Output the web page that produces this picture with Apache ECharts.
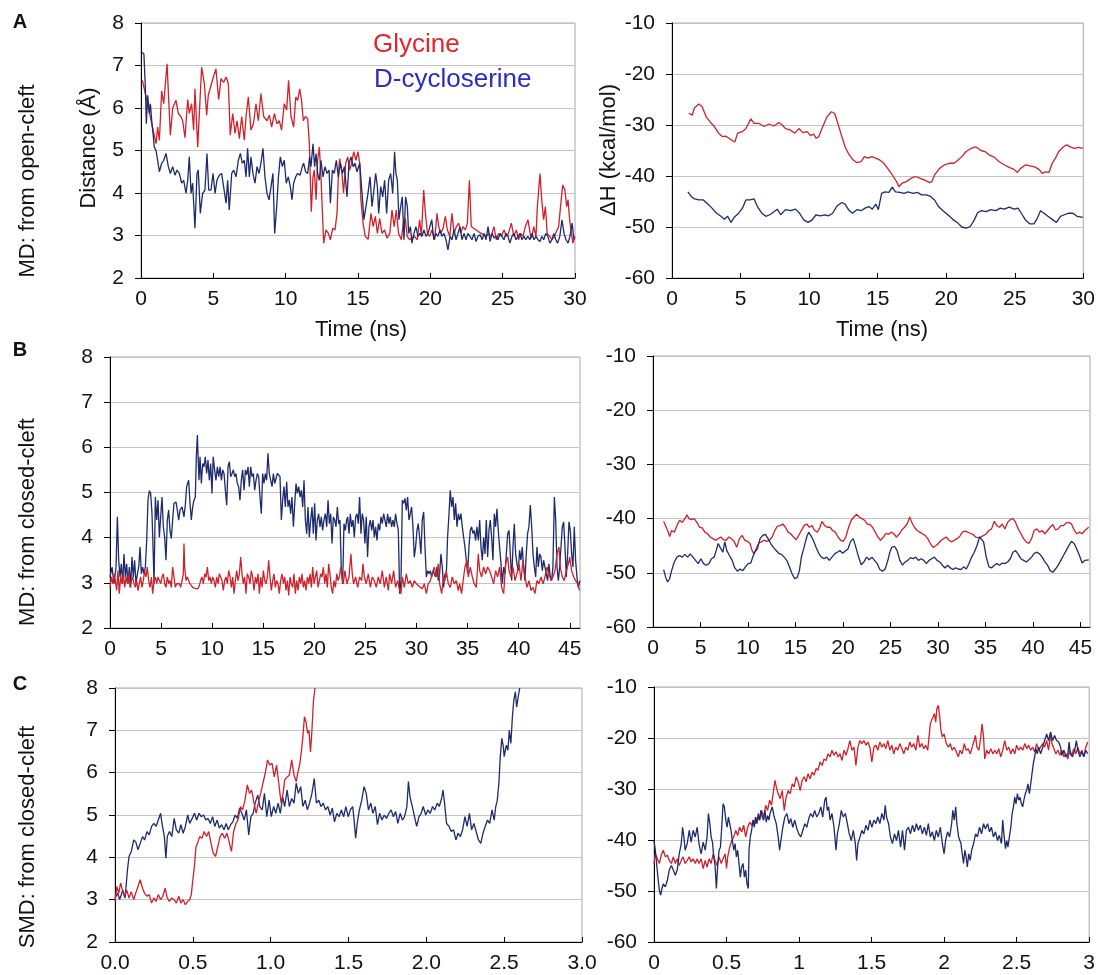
<!DOCTYPE html>
<html>
<head>
<meta charset="utf-8">
<script src="https://cdn.jsdelivr.net/npm/echarts@6/dist/echarts.min.js"></script>
<style>html,body{margin:0;padding:0;background:#fff;}#c{width:1098px;height:975px;}</style>
</head>
<body>
<div id="c"></div>
<script>
// ---------- DATA ----------
// Panel A left: distance (Å) vs time (ns), MD from open-cleft
const A_gly = [[0.1,6.65],[0.35,6.26],[0.7,5.7],[1.04,5.16],[1.15,5.55],[1.27,5.24],[1.43,6.4],[1.57,6.1],[1.8,7.04],[2.03,5.36],[2.19,6.0],[2.42,6.18],[2.58,5.87],[2.76,5.8],[2.88,5.7],[3.04,5.3],[3.23,6.2],[3.34,5.87],[3.5,6.1],[3.64,5.48],[3.73,6.45],[3.92,5.08],[4.19,6.96],[4.38,6.57],[4.54,5.83],[4.65,6.3],[4.84,6.53],[5.0,6.73],[5.18,6.92],[5.37,6.2],[5.53,6.69],[5.71,6.6],[5.88,6.73],[6.04,6.57],[6.17,5.36],[6.34,5.87],[6.5,5.4],[6.64,5.7],[6.8,5.28],[6.96,5.8],[7.14,5.24],[7.26,5.8],[7.42,6.26],[7.6,5.48],[7.77,5.63],[7.95,6.1],[8.11,5.7],[8.29,6.34],[8.48,5.8],[8.71,5.7],[8.87,5.83],[9.03,5.55],[9.22,5.87],[9.4,5.63],[9.56,5.7],[9.72,5.48],[9.9,6.1],[10.07,5.95],[10.2,6.65],[10.37,5.8],[10.55,5.55],[10.7,6.26],[10.83,6.18],[10.97,6.45],[11.1,6.18],[11.22,5.7],[11.36,5.8],[11.52,5.75],[11.64,5.16],[11.7,4.38],[11.77,3.56],[11.89,4.38],[11.98,4.54],[12.1,3.84],[12.21,4.77],[12.33,5.08],[12.44,4.38],[12.56,3.37],[12.63,2.82],[12.79,3.13],[12.95,3.05],[13.09,2.9],[13.25,3.17],[13.41,3.13],[13.55,3.52],[13.64,4.38],[13.73,4.81],[13.87,4.54],[14.0,4.0],[14.15,4.7],[14.29,4.85],[14.42,4.54],[14.56,4.7],[14.7,4.97],[14.86,4.77],[15.0,4.97],[15.12,4.7],[15.2,3.84],[15.35,3.29],[15.5,2.98],[15.7,2.91],[15.9,3.52],[16.05,3.21],[16.2,3.45],[16.34,3.05],[16.5,3.4],[16.66,3.05],[16.84,3.13],[17.0,2.94],[17.2,3.05],[17.35,3.6],[17.5,3.21],[17.65,3.6],[17.8,3.05],[18.0,2.9],[18.13,3.29],[18.27,3.4],[18.4,2.98],[18.57,2.9],[18.73,2.94],[18.9,2.98],[19.1,2.9],[19.26,3.37],[19.38,2.98],[19.54,4.07],[19.66,3.52],[19.8,3.05],[19.95,2.98],[20.1,3.13],[20.3,2.9],[20.46,3.52],[20.58,3.21],[20.72,3.05],[20.88,3.17],[21.04,3.45],[21.18,3.13],[21.34,2.98],[21.5,3.52],[21.64,3.05],[21.8,3.21],[21.96,3.29],[22.1,3.05],[22.26,3.21],[22.42,3.13],[22.56,3.29],[22.7,4.3],[22.83,3.21],[23.0,3.17],[23.18,3.13],[23.34,3.09],[23.5,3.05],[23.7,3.02],[23.87,2.98],[24.03,3.05],[24.2,2.98],[24.4,3.21],[24.56,2.9],[24.72,3.05],[24.9,2.98],[25.1,3.13],[25.25,2.98],[25.4,3.05],[25.6,3.29],[25.77,2.98],[25.95,3.13],[26.1,2.9],[26.24,3.05],[26.4,2.98],[26.57,3.21],[26.75,3.37],[26.9,3.05],[27.0,2.94],[27.15,3.21],[27.3,2.98],[27.4,3.68],[27.58,4.46],[27.7,3.84],[27.83,3.37],[27.95,3.68],[28.08,3.05],[28.25,2.98],[28.41,2.9],[28.57,2.98],[28.7,3.02],[28.87,3.21],[29.0,3.68],[29.15,4.19],[29.3,4.07],[29.43,3.68],[29.52,3.84],[29.63,3.37],[29.75,3.05],[29.86,2.82],[30.0,2.98]];
const A_dcs = [[0.05,7.31],[0.2,7.27],[0.3,6.5],[0.37,5.63],[0.46,6.3],[0.58,5.87],[0.65,6.1],[0.74,5.7],[0.83,5.4],[0.92,5.08],[1.04,5.0],[1.15,4.77],[1.27,4.5],[1.43,4.7],[1.57,4.77],[1.73,4.93],[1.89,4.62],[2.03,4.46],[2.19,4.62],[2.35,4.42],[2.49,4.54],[2.65,4.46],[2.81,4.23],[2.95,4.3],[3.11,3.99],[3.23,4.3],[3.34,4.85],[3.46,3.99],[3.57,4.23],[3.73,3.17],[3.87,4.46],[3.96,4.54],[4.1,3.52],[4.26,3.99],[4.42,4.07],[4.56,4.93],[4.68,4.07],[4.84,4.07],[4.98,4.46],[5.12,3.99],[5.25,4.3],[5.41,4.42],[5.57,4.46],[5.71,4.15],[5.88,3.76],[5.99,4.3],[6.1,3.6],[6.27,4.46],[6.41,4.54],[6.57,4.38],[6.73,4.77],[6.87,4.93],[7.0,4.7],[7.14,4.77],[7.26,4.38],[7.37,5.05],[7.49,4.38],[7.6,4.85],[7.74,4.46],[7.88,4.23],[8.02,4.62],[8.16,4.46],[8.29,4.7],[8.43,5.05],[8.57,4.38],[8.71,3.99],[8.85,3.84],[8.99,4.15],[9.12,4.46],[9.24,3.05],[9.38,3.68],[9.5,4.38],[9.63,4.85],[9.77,4.62],[9.9,4.77],[10.04,4.23],[10.18,4.38],[10.32,4.15],[10.44,3.84],[10.55,4.23],[10.69,4.38],[10.83,4.46],[11.0,4.42],[11.15,4.62],[11.24,4.7],[11.38,4.5],[11.52,4.46],[11.66,4.85],[11.75,4.62],[11.89,5.16],[12.0,4.62],[12.1,4.93],[12.21,4.46],[12.33,4.3],[12.44,4.77],[12.58,4.38],[12.72,4.62],[12.86,4.46],[13.0,4.54],[13.09,3.76],[13.23,4.54],[13.36,4.46],[13.5,4.77],[13.64,4.38],[13.78,4.7],[13.92,4.46],[14.06,4.62],[14.24,3.91],[14.38,4.7],[14.52,4.85],[14.66,4.62],[14.79,4.7],[14.93,4.5],[15.05,4.46],[15.12,4.7],[15.28,3.99],[15.41,3.37],[15.55,3.68],[15.69,3.99],[15.83,4.38],[15.97,3.68],[16.1,4.07],[16.22,4.46],[16.34,4.15],[16.43,3.52],[16.57,4.15],[16.71,3.91],[16.84,4.3],[16.98,3.52],[17.12,4.3],[17.26,4.46],[17.4,3.99],[17.53,4.97],[17.62,4.46],[17.72,4.3],[17.83,3.37],[17.95,3.68],[18.06,3.91],[18.18,2.9],[18.29,3.91],[18.41,3.68],[18.5,3.05],[18.62,3.21],[18.73,2.82],[18.87,3.05],[19.0,3.21],[19.15,2.98],[19.28,3.05],[19.42,2.98],[19.56,3.13],[19.7,2.98],[19.84,3.05],[19.97,3.21],[20.1,3.37],[20.24,2.9],[20.38,3.05],[20.52,2.98],[20.67,3.13],[20.8,2.98],[20.94,3.05],[21.08,2.9],[21.22,2.66],[21.36,2.98],[21.5,2.9],[21.64,3.13],[21.78,2.9],[21.91,3.05],[22.05,3.21],[22.19,2.9],[22.33,3.05],[22.47,2.9],[22.6,3.05],[22.74,2.98],[22.88,2.9],[23.02,3.05],[23.16,2.86],[23.3,2.98],[23.44,3.02],[23.58,2.9],[23.72,3.05],[23.85,2.9],[23.99,3.21],[24.13,2.86],[24.27,3.05],[24.4,2.94],[24.54,2.98],[24.68,2.9],[24.82,3.05],[24.95,2.98],[25.09,2.9],[25.23,3.05],[25.37,2.98],[25.5,2.82],[25.64,2.98],[25.78,3.05],[25.92,2.9],[26.06,2.98],[26.2,3.05],[26.33,2.9],[26.47,2.98],[26.6,2.9],[26.74,2.98],[26.88,2.9],[27.02,3.05],[27.17,2.9],[27.3,2.98],[27.44,2.9],[27.58,2.86],[27.7,2.98],[27.84,2.9],[27.98,3.05],[28.12,2.98],[28.27,2.82],[28.4,2.9],[28.54,3.05],[28.67,2.9],[28.8,2.82],[28.95,2.98],[29.1,3.37],[29.24,3.05],[29.38,2.9],[29.52,2.82],[29.65,2.98],[29.8,3.29],[29.93,2.9]];

// Panel A right: ΔH (kcal/mol) vs time (ns)
const AH_gly = [[1.23,-27.7],[1.47,-28.1],[1.64,-26.6],[1.96,-25.9],[2.2,-26.4],[2.49,-28.4],[2.78,-29.4],[3.09,-30.3],[3.4,-31.6],[3.7,-32.3],[3.94,-32.2],[4.3,-32.9],[4.59,-33.3],[4.78,-31.6],[5.14,-31.3],[5.39,-30.7],[5.75,-28.8],[5.99,-29.7],[6.35,-29.7],[6.71,-30.3],[7.08,-29.8],[7.44,-30.2],[7.8,-29.5],[8.04,-30.0],[8.28,-30.7],[8.65,-31.0],[8.96,-31.6],[9.25,-30.7],[9.54,-31.5],[9.86,-31.3],[10.1,-32.1],[10.34,-31.8],[10.51,-32.6],[10.7,-32.3],[10.94,-30.7],[11.3,-28.4],[11.62,-27.4],[11.86,-27.7],[12.1,-29.7],[12.39,-32.3],[12.63,-34.3],[12.87,-35.6],[13.16,-36.7],[13.48,-37.4],[13.79,-37.2],[14.03,-36.2],[14.28,-36.5],[14.57,-36.2],[14.86,-36.5],[15.17,-36.9],[15.41,-37.4],[15.65,-38.2],[15.89,-39.1],[16.14,-40.1],[16.38,-41.1],[16.55,-42.1],[16.79,-41.4],[17.1,-41.1],[17.46,-40.4],[17.75,-40.1],[18.07,-40.4],[18.43,-40.8],[18.79,-41.3],[18.96,-41.1],[19.15,-39.8],[19.52,-38.5],[19.88,-37.8],[20.24,-37.5],[20.56,-37.5],[20.85,-36.9],[21.14,-36.2],[21.45,-35.2],[21.81,-34.6],[22.17,-34.3],[22.54,-35.0],[22.83,-35.2],[23.14,-35.9],[23.5,-36.3],[23.86,-37.2],[24.23,-37.8],[24.59,-38.3],[24.95,-38.7],[25.19,-39.3],[25.43,-38.5],[25.8,-37.8],[26.1,-38.0],[26.45,-38.2],[26.76,-38.7],[27.0,-39.5],[27.25,-39.2],[27.49,-39.3],[27.73,-37.5],[27.97,-36.5],[28.21,-35.2],[28.53,-34.3],[28.77,-33.9],[29.06,-34.3],[29.35,-34.6],[29.66,-34.4],[29.97,-34.6]];
const AH_dcs = [[1.16,-43.1],[1.4,-44.0],[1.64,-44.5],[1.96,-44.7],[2.29,-44.7],[2.61,-45.5],[2.92,-46.3],[3.21,-47.2],[3.57,-47.9],[3.82,-48.5],[4.06,-47.9],[4.3,-49.1],[4.54,-48.1],[4.86,-47.3],[5.14,-46.3],[5.39,-44.7],[5.68,-44.7],[5.99,-44.5],[6.23,-46.0],[6.55,-47.3],[6.84,-47.9],[7.13,-47.6],[7.44,-47.0],[7.68,-46.5],[7.92,-47.6],[8.28,-46.6],[8.65,-46.8],[9.01,-46.5],[9.3,-47.3],[9.61,-48.6],[9.93,-49.1],[10.22,-48.6],[10.51,-47.6],[10.82,-47.8],[11.14,-47.6],[11.43,-47.8],[11.71,-47.3],[12.03,-45.9],[12.39,-45.2],[12.63,-45.5],[12.87,-46.6],[13.16,-47.3],[13.48,-46.6],[13.79,-46.8],[14.08,-46.3],[14.37,-46.0],[14.61,-46.5],[14.86,-45.5],[15.05,-46.6],[15.29,-43.4],[15.53,-43.1],[15.82,-43.2],[16.06,-42.2],[16.3,-43.1],[16.62,-43.2],[16.93,-43.4],[17.22,-43.1],[17.58,-43.4],[17.9,-43.2],[18.19,-43.7],[18.55,-43.7],[18.86,-44.0],[19.15,-44.7],[19.44,-46.0],[19.76,-46.8],[20.12,-47.6],[20.48,-48.5],[20.8,-49.1],[21.14,-50.0],[21.45,-50.2],[21.76,-49.9],[22.05,-48.6],[22.29,-47.2],[22.58,-46.8],[22.9,-47.0],[23.26,-46.6],[23.62,-46.8],[23.94,-46.3],[24.23,-46.5],[24.59,-46.1],[24.95,-46.5],[25.24,-46.3],[25.48,-47.3],[25.8,-48.7],[26.11,-49.4],[26.4,-49.4],[26.64,-48.3],[26.88,-46.8],[27.13,-47.3],[27.42,-47.9],[27.73,-48.5],[28.04,-49.1],[28.33,-47.9],[28.62,-47.6],[28.94,-47.3],[29.25,-47.3],[29.54,-47.9],[29.97,-48.1]];

// Panel B left: distance (Å), MD from closed-cleft
const B_gly = [[0,2.9],[0.13,3.13],[0.26,2.98],[0.39,3.2],[0.52,3.05],[0.65,2.83],[0.78,3.27],[0.91,2.76],[1.04,3.13],[1.17,2.98],[1.31,3.2],[1.44,2.9],[1.57,3.13],[1.7,2.98],[1.83,3.2],[1.96,2.9],[2.09,3.05],[2.22,3.13],[2.35,2.98],[2.48,2.9],[2.61,3.05],[2.74,2.83],[2.87,2.98],[3.0,3.13],[3.13,2.9],[3.26,3.05],[3.39,3.27],[3.52,3.13],[3.65,3.35],[3.78,3.05],[3.92,2.9],[4.05,3.13],[4.18,2.76],[4.31,3.05],[4.44,3.13],[4.57,2.98],[4.7,3.13],[4.83,3.05],[4.96,2.98],[5.09,3.13],[5.22,3.2],[5.35,2.98],[5.48,2.9],[5.61,3.13],[5.74,2.98],[5.87,3.05],[6.0,2.9],[6.13,3.35],[6.26,3.13],[6.39,2.9],[6.53,2.98],[6.66,2.94],[6.79,2.98],[6.92,2.9],[7.05,2.94],[7.18,3.2],[7.24,3.87],[7.31,3.35],[7.44,3.05],[7.57,3.13],[7.7,3.05],[7.83,2.98],[7.96,2.98],[8.09,2.9],[8.22,2.87],[8.35,2.87],[8.48,2.9],[8.61,2.87],[8.74,2.94],[8.87,3.05],[9.0,3.13],[9.14,2.98],[9.27,3.2],[9.4,3.13],[9.53,3.35],[9.66,3.05],[9.79,3.13],[9.92,2.98],[10.05,3.13],[10.18,3.05],[10.31,2.9],[10.44,3.13],[10.57,2.98],[10.7,3.2],[10.83,3.13],[10.96,3.05],[11.09,2.83],[11.22,3.05],[11.35,3.13],[11.48,2.98],[11.62,3.27],[11.75,3.13],[11.88,2.9],[12.01,3.13],[12.14,2.76],[12.27,3.05],[12.4,3.27],[12.53,3.05],[12.66,3.2],[12.79,3.57],[12.92,3.2],[13.05,2.98],[13.18,3.13],[13.31,2.76],[13.44,3.2],[13.57,3.13],[13.7,2.98],[13.83,3.27],[13.96,3.13],[14.09,2.83],[14.23,3.13],[14.36,2.98],[14.49,3.2],[14.62,2.76],[14.75,3.13],[14.88,2.9],[15.01,3.27],[15.14,3.05],[15.27,2.98],[15.4,3.13],[15.53,3.5],[15.66,3.13],[15.79,2.83],[15.92,3.05],[16.05,3.2],[16.18,2.9],[16.31,3.05],[16.44,2.98],[16.57,2.76],[16.7,3.05],[16.84,3.2],[16.97,2.98],[17.1,3.13],[17.23,2.83],[17.36,3.05],[17.49,2.72],[17.62,3.13],[17.75,2.98],[17.88,2.9],[18.01,3.2],[18.14,2.76],[18.27,3.05],[18.4,2.83],[18.53,3.13],[18.66,2.98],[18.79,3.2],[18.92,2.9],[19.05,3.05],[19.18,2.83],[19.32,3.13],[19.45,2.98],[19.58,3.2],[19.71,2.9],[19.84,3.35],[19.97,2.98],[20.1,3.13],[20.23,3.27],[20.36,2.9],[20.49,3.05],[20.62,3.2],[20.75,3.13],[20.88,3.35],[21.01,2.98],[21.14,3.2],[21.27,2.9],[21.4,3.42],[21.53,3.2],[21.66,2.9],[21.79,2.76],[21.92,3.05],[22.06,2.9],[22.19,3.2],[22.32,3.05],[22.45,3.13],[22.58,3.35],[22.71,3.13],[22.84,2.98],[22.99,3.27],[23.19,2.98],[23.39,3.13],[23.58,3.64],[23.71,3.2],[23.84,2.98],[24.04,3.13],[24.24,2.9],[24.43,3.13],[24.63,3.05],[24.76,3.42],[24.89,3.13],[25.08,2.98],[25.28,3.2],[25.48,2.9],[25.67,3.13],[25.87,3.05],[26.06,2.9],[26.26,3.13],[26.45,2.98],[26.65,3.27],[26.85,2.9],[27.04,3.13],[27.24,2.83],[27.37,3.2],[27.56,2.98],[27.76,3.27],[27.95,2.9],[28.15,3.05],[28.35,2.83],[28.48,2.76],[28.61,3.13],[28.8,2.9],[29.0,3.2],[29.19,2.98],[29.39,3.05],[29.59,2.9],[29.78,3.05],[29.98,2.98],[30.17,2.94],[30.37,2.9],[30.57,2.87],[30.76,2.98],[30.96,2.76],[31.15,2.98],[31.35,3.05],[31.54,3.2],[31.74,3.35],[31.94,3.13],[32.13,3.42],[32.26,2.98],[32.46,2.76],[32.65,3.13],[32.78,3.05],[32.91,3.27],[33.11,2.98],[33.31,2.9],[33.5,3.13],[33.7,2.98],[33.89,3.05],[34.09,2.83],[34.22,2.98],[34.41,2.76],[34.61,3.13],[34.74,3.35],[34.94,3.5],[35.07,3.13],[35.26,3.35],[35.46,3.13],[35.65,2.98],[35.85,2.9],[36.05,3.64],[36.18,3.27],[36.37,3.13],[36.57,3.35],[36.76,3.2],[36.96,3.35],[37.16,3.27],[37.35,3.13],[37.55,2.98],[37.74,3.27],[37.94,3.13],[38.13,3.35],[38.33,2.9],[38.53,2.76],[38.72,3.42],[38.92,3.57],[39.05,3.27],[39.24,3.13],[39.44,3.35],[39.64,3.05],[39.83,3.2],[40.03,3.42],[40.22,3.05],[40.42,3.5],[40.61,3.13],[40.81,2.9],[41.01,3.05],[41.2,2.83],[41.4,2.9],[41.59,2.76],[41.79,3.05],[41.98,2.98],[42.18,3.13],[42.38,2.98],[42.57,3.13],[42.77,3.35],[42.96,3.2],[43.16,3.05],[43.35,3.13],[43.55,3.27],[43.75,3.64],[43.94,3.79],[44.07,3.35],[44.27,3.13],[44.46,3.05],[44.66,3.27],[44.86,3.42],[44.99,3.57],[45.18,3.27],[45.38,3.13],[45.57,3.05],[45.77,2.98],[45.96,2.83]];
const B_dcs = [[0,3.13],[0.2,3.35],[0.39,2.98],[0.59,3.35],[0.72,4.46],[0.85,3.5],[0.98,3.13],[1.11,3.42],[1.24,2.98],[1.37,3.64],[1.5,3.13],[1.63,3.42],[1.76,2.98],[1.89,3.35],[2.02,2.9],[2.15,3.57],[2.28,3.13],[2.41,3.5],[2.54,2.98],[2.68,3.2],[2.81,3.35],[2.94,3.79],[3.07,3.2],[3.2,3.35],[3.33,3.2],[3.46,3.35],[3.59,3.94],[3.72,4.83],[3.85,5.04],[3.98,4.98],[4.11,4.53],[4.24,3.57],[4.31,2.98],[4.44,4.9],[4.57,4.39],[4.7,4.83],[4.83,4.01],[4.96,4.46],[5.09,4.9],[5.22,4.24],[5.35,4.01],[5.48,3.5],[5.61,4.39],[5.74,4.61],[5.87,4.16],[6.0,3.98],[6.13,4.39],[6.26,4.76],[6.46,4.79],[6.59,4.61],[6.72,4.39],[6.85,4.61],[7.05,4.68],[7.24,4.46],[7.37,4.72],[7.5,5.13],[7.7,5.27],[7.83,4.76],[7.96,4.39],[8.09,4.68],[8.22,4.83],[8.35,4.9],[8.45,5.79],[8.55,6.27],[8.61,5.87],[8.71,5.27],[8.81,5.79],[8.94,5.2],[9.07,5.64],[9.2,5.57],[9.33,5.79],[9.46,5.42],[9.59,5.72],[9.72,5.27],[9.85,5.64],[9.98,4.98],[10.1,5.79],[10.24,5.5],[10.37,5.27],[10.51,5.57],[10.64,5.35],[10.77,5.57],[10.9,5.27],[11.03,5.5],[11.16,5.42],[11.29,5.05],[11.42,4.72],[11.55,5.57],[11.68,5.68],[11.81,5.35],[11.94,5.42],[12.07,5.5],[12.2,5.35],[12.33,5.42],[12.46,5.2],[12.59,5.13],[12.72,4.83],[12.85,5.27],[12.98,5.5],[13.12,5.05],[13.25,5.5],[13.38,5.39],[13.51,5.57],[13.64,5.13],[13.77,5.57],[13.9,5.35],[14.03,5.42],[14.16,5.05],[14.29,5.27],[14.42,5.42],[14.55,5.35],[14.68,4.9],[14.81,4.53],[14.94,5.42],[15.07,5.2],[15.2,5.42],[15.33,5.27],[15.46,5.87],[15.59,5.42],[15.73,5.27],[15.86,5.13],[15.99,5.42],[16.12,5.2],[16.25,5.31],[16.38,5.42],[16.51,5.46],[16.64,5.35],[16.77,4.39],[16.9,4.83],[17.03,5.13],[17.16,4.68],[17.29,5.24],[17.42,4.68],[17.55,4.83],[17.68,4.53],[17.81,4.9],[17.95,4.24],[18.08,4.76],[18.21,5.2],[18.34,4.98],[18.47,5.13],[18.6,4.9],[18.73,5.05],[18.86,4.68],[18.99,5.27],[19.12,4.39],[19.25,4.09],[19.38,4.68],[19.51,4.01],[19.64,4.39],[19.77,4.68],[19.9,4.09],[20.03,4.76],[20.16,3.94],[20.29,4.39],[20.42,4.53],[20.55,4.24],[20.68,4.46],[20.81,4.16],[20.94,4.39],[21.08,4.53],[21.21,4.24],[21.34,4.83],[21.47,4.31],[21.6,4.53],[21.73,3.87],[21.86,4.46],[21.99,4.39],[22.12,4.24],[22.25,4.68],[22.38,4.31],[22.51,4.39],[22.64,3.27],[22.77,2.98],[22.9,4.31],[23.03,4.16],[23.16,4.39],[23.26,4.46],[23.39,4.09],[23.52,4.53],[23.65,4.24],[23.78,4.39],[23.91,4.01],[24.04,4.46],[24.17,4.53],[24.3,4.31],[24.43,4.9],[24.56,4.09],[24.69,4.53],[24.82,4.39],[24.95,3.87],[25.08,4.46],[25.21,3.57],[25.34,4.24],[25.48,4.39],[25.61,4.16],[25.74,4.39],[25.87,4.01],[26.0,4.24],[26.13,3.94],[26.26,4.31],[26.39,4.16],[26.52,4.46],[26.65,4.31],[26.78,4.53],[26.91,4.39],[27.04,4.24],[27.17,4.53],[27.3,4.31],[27.43,4.46],[27.56,4.24],[27.69,4.39],[27.82,4.24],[27.95,4.53],[28.09,4.31],[28.22,4.16],[28.35,2.76],[28.48,3.05],[28.61,4.83],[28.74,4.76],[28.87,4.87],[29.0,4.61],[29.13,4.9],[29.26,4.39],[29.39,4.53],[29.52,4.68],[29.65,4.24],[29.78,3.57],[29.91,3.79],[30.04,4.16],[30.17,4.31],[30.3,4.01],[30.43,3.64],[30.56,4.39],[30.7,4.57],[30.83,3.79],[30.96,3.13],[31.09,3.27],[31.22,3.2],[31.35,3.27],[31.48,3.13],[31.61,3.27],[31.74,3.2],[31.87,3.13],[32.0,3.35],[32.13,3.05],[32.26,3.2],[32.39,3.64],[32.52,3.35],[32.65,2.9],[32.78,3.2],[32.91,3.13],[33.04,4.01],[33.18,4.53],[33.3,5.05],[33.44,4.68],[33.57,4.9],[33.7,4.39],[33.83,4.76],[33.96,4.24],[34.09,4.53],[34.22,4.39],[34.35,4.53],[34.48,4.24],[34.61,4.01],[34.74,3.79],[34.87,3.5],[35.0,3.2],[35.13,3.79],[35.26,4.16],[35.39,4.24],[35.52,4.09],[35.65,4.16],[35.78,3.94],[35.91,4.24],[36.05,3.94],[36.18,4.39],[36.31,3.79],[36.44,3.5],[36.57,4.01],[36.7,3.64],[36.83,4.39],[36.96,3.57],[37.09,4.16],[37.22,4.39],[37.35,4.01],[37.48,3.5],[37.61,4.53],[37.74,4.24],[37.87,4.64],[38.0,4.16],[38.13,3.79],[38.27,3.42],[38.4,2.98],[38.53,3.35],[38.66,3.2],[38.79,3.64],[38.92,4.09],[39.05,4.16],[39.18,3.64],[39.31,3.05],[39.44,3.79],[39.57,4.31],[39.7,3.64],[39.83,3.42],[39.96,3.27],[40.09,3.72],[40.22,3.5],[40.35,3.79],[40.48,3.35],[40.61,3.05],[40.74,3.64],[40.87,4.09],[41.0,4.24],[41.14,4.72],[41.27,4.24],[41.4,3.64],[41.53,3.35],[41.66,3.13],[41.79,3.79],[41.92,3.35],[42.05,3.64],[42.18,3.57],[42.31,3.27],[42.44,3.5],[42.57,3.35],[42.7,3.2],[42.83,3.05],[42.96,3.42],[43.09,3.13],[43.22,3.05],[43.35,3.35],[43.49,4.9],[43.62,4.39],[43.75,3.35],[43.88,3.05],[44.01,3.35],[44.14,3.79],[44.27,4.24],[44.4,4.35],[44.53,3.79],[44.66,3.13],[44.79,3.64],[44.92,4.35],[45.05,4.16],[45.18,3.64],[45.31,3.35],[45.44,4.24],[45.57,3.5],[45.7,3.13],[45.83,2.9],[46.0,3.05]];

// Panel B right: ΔH (kcal/mol)
const BH_gly = [[1.12,-40.5],[1.33,-40.3],[1.54,-42.2],[1.75,-43.3],[1.96,-42.2],[2.24,-42.5],[2.52,-41.3],[2.8,-40.3],[3.08,-40.7],[3.36,-40.0],[3.57,-39.3],[3.78,-40.0],[4.06,-40.2],[4.34,-40.0],[4.62,-40.7],[4.9,-41.6],[5.18,-41.7],[5.46,-42.5],[5.74,-42.8],[6.02,-43.4],[6.3,-43.7],[6.58,-44.0],[6.86,-43.7],[7.14,-43.4],[7.42,-43.9],[7.7,-44.0],[7.98,-43.4],[8.26,-43.7],[8.54,-44.2],[8.82,-45.3],[9.1,-43.7],[9.38,-43.1],[9.66,-44.0],[9.94,-44.2],[10.22,-44.6],[10.43,-45.9],[10.64,-46.5],[10.85,-45.6],[11.13,-44.5],[11.41,-44.3],[11.69,-44.0],[11.97,-44.2],[12.25,-44.0],[12.54,-43.4],[12.82,-42.2],[13.1,-41.4],[13.38,-41.3],[13.66,-41.0],[13.94,-41.6],[14.22,-42.5],[14.5,-42.8],[14.78,-43.4],[15.06,-43.9],[15.34,-43.1],[15.62,-42.2],[15.9,-41.3],[16.18,-41.0],[16.46,-41.6],[16.74,-41.3],[17.02,-42.2],[17.3,-42.5],[17.58,-41.6],[17.79,-40.5],[18.07,-41.3],[18.35,-41.6],[18.63,-41.6],[18.91,-42.2],[19.19,-42.5],[19.47,-43.4],[19.75,-44.0],[20.03,-44.2],[20.31,-43.3],[20.59,-41.6],[20.87,-40.3],[21.15,-39.7],[21.43,-39.2],[21.71,-39.7],[21.99,-40.0],[22.27,-40.3],[22.55,-41.0],[22.83,-41.1],[23.11,-41.6],[23.39,-42.5],[23.67,-43.4],[23.95,-44.0],[24.23,-43.5],[24.51,-42.7],[24.79,-42.9],[25.07,-42.5],[25.35,-42.8],[25.63,-43.4],[25.91,-42.9],[26.19,-42.1],[26.47,-41.6],[26.75,-41.0],[27.03,-39.7],[27.24,-40.7],[27.52,-41.6],[27.8,-42.2],[28.08,-42.5],[28.36,-42.8],[28.64,-43.1],[28.92,-43.7],[29.2,-44.6],[29.48,-45.3],[29.76,-45.0],[30.04,-44.6],[30.32,-44.0],[30.6,-43.7],[30.88,-43.4],[31.16,-44.0],[31.44,-44.3],[31.72,-44.0],[32.0,-43.7],[32.28,-43.3],[32.56,-42.5],[32.84,-42.3],[33.12,-42.5],[33.4,-42.7],[33.68,-42.9],[33.96,-43.4],[34.24,-43.5],[34.52,-43.4],[34.8,-43.1],[35.08,-42.8],[35.36,-42.2],[35.64,-41.9],[35.92,-40.5],[36.2,-41.3],[36.48,-41.6],[36.76,-41.0],[37.04,-41.9],[37.32,-40.7],[37.61,-40.2],[37.89,-40.0],[38.17,-40.7],[38.45,-41.9],[38.73,-42.8],[39.01,-43.7],[39.29,-44.3],[39.57,-44.6],[39.85,-43.7],[40.13,-42.2],[40.41,-41.9],[40.69,-42.5],[40.97,-42.2],[41.25,-42.8],[41.53,-42.2],[41.81,-41.6],[42.09,-41.1],[42.37,-42.1],[42.65,-41.9],[42.93,-41.3],[43.21,-41.3],[43.49,-40.8],[43.77,-40.7],[44.05,-41.0],[44.33,-42.1],[44.61,-42.8],[44.89,-42.5],[45.17,-42.8],[45.45,-42.2],[45.87,-41.6]];
const BH_dcs = [[1.12,-49.4],[1.33,-50.8],[1.54,-51.7],[1.75,-51.1],[1.96,-49.6],[2.24,-48.0],[2.52,-47.1],[2.8,-46.8],[3.08,-47.1],[3.36,-46.6],[3.64,-47.1],[3.92,-46.5],[4.2,-47.1],[4.48,-47.7],[4.76,-48.3],[5.04,-47.4],[5.32,-48.3],[5.6,-48.6],[5.88,-48.3],[6.16,-47.4],[6.44,-47.1],[6.65,-45.9],[6.86,-44.6],[7.07,-45.3],[7.35,-46.2],[7.56,-44.3],[7.77,-45.9],[8.05,-46.8],[8.33,-47.7],[8.61,-49.1],[8.89,-49.7],[9.17,-49.3],[9.45,-49.6],[9.73,-48.9],[10.01,-48.3],[10.29,-48.2],[10.5,-47.1],[10.71,-46.2],[10.99,-45.6],[11.27,-43.7],[11.55,-43.1],[11.83,-42.9],[12.11,-43.7],[12.39,-44.6],[12.68,-45.3],[12.96,-45.9],[13.24,-46.4],[13.52,-46.6],[13.8,-47.1],[14.08,-47.7],[14.36,-48.9],[14.64,-50.2],[14.92,-51.1],[15.2,-50.8],[15.41,-49.6],[15.62,-47.1],[15.9,-45.3],[16.18,-43.4],[16.39,-42.5],[16.6,-43.1],[16.88,-44.0],[17.16,-45.3],[17.44,-46.4],[17.72,-47.1],[18.0,-47.4],[18.28,-47.1],[18.56,-47.7],[18.84,-47.1],[19.12,-46.5],[19.4,-46.2],[19.68,-45.9],[19.96,-46.4],[20.24,-46.0],[20.52,-45.6],[20.8,-44.2],[21.08,-43.7],[21.36,-45.3],[21.64,-47.1],[21.92,-48.5],[22.2,-48.0],[22.48,-47.1],[22.76,-47.6],[23.04,-47.1],[23.32,-47.7],[23.6,-48.3],[23.88,-49.4],[24.16,-49.7],[24.44,-49.3],[24.72,-47.7],[24.93,-46.2],[25.14,-45.3],[25.42,-45.1],[25.7,-45.9],[25.98,-47.7],[26.26,-48.6],[26.54,-48.0],[26.82,-47.7],[27.1,-47.2],[27.38,-47.4],[27.66,-47.1],[27.94,-47.7],[28.22,-47.4],[28.5,-47.7],[28.78,-48.3],[29.06,-47.7],[29.34,-47.4],[29.62,-47.1],[29.9,-47.7],[30.18,-48.0],[30.46,-48.6],[30.74,-49.1],[31.02,-48.6],[31.3,-49.1],[31.58,-49.4],[31.86,-49.1],[32.14,-49.3],[32.42,-49.4],[32.7,-48.9],[32.98,-49.3],[33.26,-48.3],[33.54,-47.1],[33.82,-46.2],[34.1,-45.0],[34.38,-43.4],[34.59,-43.1],[34.8,-44.3],[35.08,-47.1],[35.36,-48.9],[35.64,-49.1],[35.92,-48.6],[36.2,-48.3],[36.48,-48.6],[36.76,-48.2],[37.04,-48.3],[37.32,-48.0],[37.61,-47.4],[37.89,-46.2],[38.17,-45.9],[38.45,-46.6],[38.73,-47.4],[39.01,-47.7],[39.29,-48.0],[39.57,-47.6],[39.85,-47.1],[40.13,-46.4],[40.41,-46.2],[40.69,-46.5],[40.97,-47.1],[41.25,-48.0],[41.53,-48.6],[41.81,-49.6],[42.09,-49.9],[42.37,-49.3],[42.65,-48.6],[42.93,-47.7],[43.21,-46.8],[43.49,-45.9],[43.77,-45.0],[44.05,-44.2],[44.33,-44.6],[44.61,-45.6],[44.89,-46.8],[45.17,-48.2],[45.45,-47.7],[45.66,-47.4],[45.87,-47.6]];

// Panel C left: distance (Å), SMD from closed-cleft
const C_gly = [[0,2.96],[0.012,3.31],[0.024,3.15],[0.036,3.39],[0.048,3.23],[0.06,3.08],[0.075,3.23],[0.09,3.04],[0.104,3.19],[0.12,3.0],[0.133,3.15],[0.148,3.31],[0.162,3.47],[0.177,3.27],[0.19,3.15],[0.206,3.08],[0.22,3.12],[0.235,2.92],[0.25,3.04],[0.264,2.96],[0.278,3.12],[0.293,3.0],[0.307,3.08],[0.322,3.27],[0.336,3.04],[0.35,2.96],[0.365,3.04],[0.38,3.0],[0.394,2.92],[0.41,3.08],[0.423,2.92],[0.438,3.0],[0.452,2.88],[0.467,2.96],[0.48,3.0],[0.49,3.12],[0.5,3.47],[0.51,3.78],[0.52,4.25],[0.53,4.33],[0.544,4.49],[0.559,4.45],[0.573,4.61],[0.588,4.49],[0.602,4.61],[0.617,4.33],[0.631,4.1],[0.646,4.02],[0.66,4.25],[0.675,4.49],[0.69,4.57],[0.704,4.45],[0.719,4.57],[0.733,4.37],[0.748,4.14],[0.762,4.61],[0.777,4.8],[0.79,4.88],[0.806,5.2],[0.82,5.12],[0.835,5.35],[0.85,5.71],[0.864,5.51],[0.878,5.59],[0.893,5.28],[0.907,5.04],[0.922,5.31],[0.936,5.51],[0.95,5.75],[0.965,5.98],[0.98,6.3],[0.994,6.18],[1.009,6.22],[1.023,5.9],[1.038,6.18],[1.052,5.75],[1.067,5.28],[1.08,5.51],[1.09,5.83],[1.106,5.9],[1.12,5.94],[1.135,6.3],[1.15,5.94],[1.164,5.79],[1.178,6.06],[1.188,6.22],[1.198,6.53],[1.207,6.85],[1.217,7.32],[1.227,7.2],[1.237,6.93],[1.246,7.0],[1.256,6.49],[1.265,7.0],[1.275,7.71],[1.285,8.0]];
const C_dcs = [[0,3.04],[0.017,3.15],[0.03,3.0],[0.05,3.23],[0.065,3.04],[0.08,3.7],[0.09,4.02],[0.105,4.14],[0.12,4.41],[0.133,4.37],[0.148,4.18],[0.162,4.33],[0.177,4.49],[0.19,4.41],[0.206,4.61],[0.22,4.53],[0.235,4.73],[0.25,4.8],[0.264,4.73],[0.278,4.88],[0.293,5.04],[0.302,4.8],[0.317,4.49],[0.327,3.98],[0.336,4.49],[0.35,4.61],[0.365,4.49],[0.38,4.92],[0.394,4.65],[0.41,4.57],[0.423,4.77],[0.438,4.57],[0.452,4.73],[0.467,5.0],[0.48,4.8],[0.496,4.92],[0.51,5.04],[0.525,4.88],[0.54,5.04],[0.554,4.96],[0.569,5.0],[0.583,4.88],[0.598,4.92],[0.612,4.8],[0.627,4.96],[0.641,4.73],[0.656,4.88],[0.67,4.69],[0.685,4.77],[0.7,4.65],[0.714,4.8],[0.728,4.65],[0.743,4.77],[0.757,4.84],[0.772,5.0],[0.786,4.92],[0.8,5.16],[0.815,5.04],[0.83,4.88],[0.844,5.12],[0.859,4.53],[0.873,4.96],[0.888,5.04],[0.9,5.28],[0.917,5.47],[0.93,5.2],[0.946,5.12],[0.96,5.51],[0.975,4.96],[0.99,5.35],[1.004,4.96],[1.019,5.2],[1.033,5.04],[1.048,5.28],[1.062,5.04],[1.077,5.43],[1.09,5.2],[1.106,5.59],[1.12,5.2],[1.135,5.39],[1.15,5.28],[1.164,5.75],[1.178,5.51],[1.193,5.67],[1.207,5.2],[1.222,5.35],[1.236,5.12],[1.25,5.28],[1.265,5.51],[1.28,5.86],[1.294,5.28],[1.309,5.35],[1.323,5.2],[1.338,5.28],[1.352,5.12],[1.367,5.2],[1.382,5.0],[1.396,5.16],[1.41,4.84],[1.425,5.04],[1.44,4.96],[1.454,5.12],[1.469,4.96],[1.483,5.2],[1.498,4.96],[1.512,5.12],[1.527,5.2],[1.536,4.88],[1.546,4.45],[1.556,4.8],[1.57,5.12],[1.585,5.35],[1.6,5.67],[1.614,5.51],[1.628,5.12],[1.643,5.28],[1.657,5.04],[1.672,5.2],[1.686,4.77],[1.7,5.04],[1.715,4.88],[1.73,5.0],[1.744,4.92],[1.759,5.04],[1.774,5.12],[1.788,4.96],[1.803,5.08],[1.817,4.8],[1.832,5.04],[1.846,4.88],[1.86,4.96],[1.875,5.2],[1.885,5.79],[1.895,5.43],[1.91,5.2],[1.924,4.96],[1.938,4.73],[1.953,4.96],[1.967,5.04],[1.98,5.2],[1.996,5.0],[2.01,5.12],[2.025,5.04],[2.04,5.2],[2.054,5.12],[2.07,5.28],[2.083,5.2],[2.098,5.39],[2.107,5.59],[2.117,5.28],[2.13,4.8],[2.146,4.73],[2.16,4.61],[2.175,4.65],[2.19,4.41],[2.204,4.57],[2.219,4.49],[2.233,4.65],[2.248,4.96],[2.262,4.73],[2.277,5.04],[2.291,4.65],[2.306,4.8],[2.32,4.61],[2.335,4.41],[2.35,4.33],[2.364,4.57],[2.378,4.73],[2.393,4.88],[2.407,4.8],[2.422,5.12],[2.436,4.88],[2.446,5.2],[2.456,5.35],[2.466,5.75],[2.475,6.38],[2.485,6.81],[2.495,6.61],[2.5,6.38],[2.514,6.65],[2.524,6.53],[2.533,7.0],[2.543,6.69],[2.553,7.32],[2.562,7.71],[2.572,7.91],[2.58,7.55],[2.59,7.79],[2.6,8.0]];

// Panel C right: ΔH (kcal/mol)
const CH_gly = [[0,-44.6],[0.009,-42.7],[0.023,-43.7],[0.037,-44.6],[0.05,-43.0],[0.064,-42.0],[0.078,-43.3],[0.092,-43.0],[0.105,-44.0],[0.12,-44.6],[0.133,-43.3],[0.147,-44.6],[0.16,-43.7],[0.174,-45.0],[0.188,-44.0],[0.2,-43.3],[0.215,-44.6],[0.229,-44.0],[0.243,-43.3],[0.256,-44.3],[0.27,-43.7],[0.284,-44.6],[0.298,-43.7],[0.31,-44.6],[0.325,-43.7],[0.339,-45.6],[0.353,-44.0],[0.366,-45.3],[0.38,-43.7],[0.394,-44.6],[0.408,-42.7],[0.421,-44.0],[0.435,-45.0],[0.449,-43.3],[0.463,-44.6],[0.476,-43.7],[0.49,-42.7],[0.5,-45.6],[0.508,-43.3],[0.522,-41.4],[0.536,-40.1],[0.55,-39.4],[0.563,-38.1],[0.577,-39.1],[0.59,-37.5],[0.605,-38.4],[0.618,-37.1],[0.632,-39.4],[0.646,-37.5],[0.66,-36.5],[0.673,-37.1],[0.687,-36.1],[0.7,-36.8],[0.714,-35.5],[0.728,-36.1],[0.742,-34.2],[0.756,-35.5],[0.77,-33.2],[0.783,-34.2],[0.797,-32.2],[0.81,-33.2],[0.824,-30.3],[0.834,-28.3],[0.843,-29.6],[0.856,-30.9],[0.87,-31.9],[0.884,-30.3],[0.898,-34.2],[0.911,-31.6],[0.925,-30.3],[0.939,-30.9],[0.953,-29.0],[0.966,-29.6],[0.98,-27.6],[0.994,-28.6],[1.008,-30.3],[1.021,-28.3],[1.035,-27.6],[1.049,-28.6],[1.062,-27.0],[1.076,-28.0],[1.09,-26.7],[1.104,-27.3],[1.117,-26.0],[1.131,-26.3],[1.145,-24.7],[1.159,-25.4],[1.172,-24.1],[1.186,-24.4],[1.2,-23.1],[1.214,-23.7],[1.227,-22.4],[1.241,-23.4],[1.255,-22.7],[1.269,-23.7],[1.282,-23.1],[1.296,-24.4],[1.31,-22.4],[1.324,-23.4],[1.337,-22.1],[1.35,-20.5],[1.365,-22.4],[1.379,-21.8],[1.392,-25.4],[1.406,-21.8],[1.42,-20.5],[1.433,-21.1],[1.447,-20.5],[1.461,-21.4],[1.475,-20.8],[1.488,-21.8],[1.502,-24.7],[1.516,-21.8],[1.53,-21.4],[1.543,-22.4],[1.557,-20.8],[1.571,-21.8],[1.585,-21.1],[1.598,-22.1],[1.612,-20.5],[1.626,-22.4],[1.64,-21.4],[1.653,-23.1],[1.667,-21.8],[1.68,-22.4],[1.695,-21.1],[1.709,-22.1],[1.722,-23.1],[1.736,-21.8],[1.75,-22.4],[1.763,-20.8],[1.777,-21.8],[1.79,-21.1],[1.805,-22.4],[1.82,-19.5],[1.832,-21.8],[1.846,-21.1],[1.86,-22.1],[1.873,-21.4],[1.887,-22.4],[1.896,-19.8],[1.905,-17.2],[1.914,-16.5],[1.924,-15.9],[1.933,-15.2],[1.942,-16.9],[1.95,-14.2],[1.96,-13.6],[1.97,-15.9],[1.978,-18.5],[1.988,-19.8],[2.0,-19.2],[2.015,-21.1],[2.03,-21.8],[2.043,-21.1],[2.056,-22.4],[2.07,-21.8],[2.084,-22.7],[2.098,-23.7],[2.11,-22.4],[2.125,-23.1],[2.139,-21.1],[2.152,-22.4],[2.166,-22.1],[2.18,-23.1],[2.194,-21.8],[2.207,-20.5],[2.216,-19.5],[2.226,-21.8],[2.24,-22.4],[2.253,-19.8],[2.262,-17.2],[2.272,-19.8],[2.28,-24.1],[2.294,-22.4],[2.308,-23.1],[2.322,-22.1],[2.336,-23.1],[2.35,-22.4],[2.363,-23.1],[2.377,-22.1],[2.39,-23.7],[2.404,-22.4],[2.418,-20.5],[2.432,-22.4],[2.446,-21.8],[2.46,-23.1],[2.473,-22.1],[2.487,-23.1],[2.5,-21.4],[2.514,-22.4],[2.528,-21.8],[2.542,-22.4],[2.556,-21.1],[2.57,-22.1],[2.583,-21.4],[2.597,-22.4],[2.61,-21.8],[2.624,-22.7],[2.638,-21.1],[2.652,-22.4],[2.665,-21.8],[2.68,-21.1],[2.693,-21.8],[2.707,-20.5],[2.72,-22.4],[2.734,-19.2],[2.743,-21.1],[2.757,-22.1],[2.77,-23.1],[2.785,-22.4],[2.798,-23.4],[2.812,-22.4],[2.826,-23.7],[2.84,-23.1],[2.853,-24.1],[2.867,-22.4],[2.88,-23.4],[2.894,-22.1],[2.908,-23.1],[2.922,-21.8],[2.936,-23.1],[2.95,-22.4],[2.963,-23.7],[2.977,-21.8],[2.99,-20.8]];
const CH_dcs = [[0,-40.1],[0.009,-42.0],[0.018,-44.6],[0.027,-47.3],[0.037,-49.9],[0.046,-50.8],[0.055,-49.5],[0.064,-48.6],[0.078,-49.2],[0.092,-47.9],[0.105,-45.9],[0.12,-45.0],[0.133,-45.9],[0.147,-46.9],[0.16,-45.9],[0.174,-42.7],[0.188,-40.7],[0.197,-37.5],[0.206,-39.4],[0.215,-42.0],[0.229,-40.7],[0.243,-38.1],[0.256,-40.4],[0.27,-38.1],[0.284,-39.4],[0.298,-37.5],[0.31,-40.7],[0.325,-42.7],[0.339,-40.4],[0.353,-42.0],[0.366,-39.4],[0.375,-34.8],[0.385,-36.8],[0.394,-39.4],[0.403,-40.4],[0.412,-43.3],[0.421,-45.0],[0.43,-49.5],[0.44,-44.6],[0.449,-42.0],[0.458,-41.4],[0.467,-37.5],[0.476,-32.9],[0.485,-33.5],[0.495,-36.1],[0.504,-37.5],[0.513,-35.5],[0.522,-36.8],[0.531,-38.1],[0.54,-40.1],[0.55,-42.0],[0.559,-40.7],[0.568,-43.3],[0.577,-42.0],[0.586,-44.6],[0.595,-47.3],[0.604,-45.3],[0.614,-44.6],[0.623,-47.3],[0.632,-45.9],[0.641,-48.6],[0.65,-49.5],[0.655,-42.0],[0.664,-39.4],[0.673,-38.1],[0.682,-36.1],[0.692,-37.5],[0.7,-35.5],[0.71,-36.8],[0.719,-34.8],[0.728,-36.1],[0.737,-34.2],[0.746,-35.5],[0.756,-36.1],[0.765,-34.2],[0.774,-36.5],[0.783,-35.2],[0.792,-36.1],[0.8,-34.8],[0.815,-33.5],[0.829,-35.5],[0.843,-36.8],[0.856,-39.4],[0.866,-42.0],[0.875,-40.1],[0.888,-37.5],[0.902,-35.5],[0.916,-34.8],[0.93,-36.8],[0.943,-35.8],[0.957,-37.5],[0.97,-36.1],[0.985,-37.8],[0.998,-38.8],[1.012,-39.4],[1.026,-38.1],[1.04,-36.8],[1.053,-37.5],[1.067,-35.8],[1.08,-34.8],[1.095,-35.5],[1.108,-34.2],[1.122,-35.5],[1.136,-34.8],[1.15,-33.5],[1.163,-35.5],[1.177,-32.2],[1.186,-31.6],[1.195,-34.2],[1.204,-33.5],[1.214,-36.1],[1.227,-34.8],[1.241,-37.5],[1.255,-42.0],[1.264,-38.8],[1.278,-36.8],[1.291,-34.2],[1.305,-35.5],[1.319,-34.8],[1.333,-36.8],[1.346,-38.8],[1.36,-40.1],[1.374,-38.1],[1.388,-40.7],[1.397,-44.0],[1.406,-40.7],[1.42,-39.4],[1.433,-38.1],[1.447,-38.8],[1.461,-37.1],[1.475,-38.1],[1.488,-36.1],[1.502,-37.5],[1.516,-36.1],[1.53,-36.8],[1.543,-35.5],[1.557,-36.8],[1.571,-34.8],[1.585,-36.1],[1.594,-33.2],[1.603,-35.5],[1.617,-36.8],[1.63,-39.4],[1.644,-40.7],[1.658,-38.8],[1.672,-40.1],[1.685,-38.1],[1.7,-41.4],[1.713,-38.1],[1.727,-42.0],[1.74,-38.1],[1.754,-37.5],[1.768,-38.8],[1.782,-37.1],[1.795,-38.4],[1.809,-36.8],[1.823,-38.1],[1.836,-37.1],[1.85,-38.8],[1.864,-37.5],[1.878,-39.1],[1.891,-36.8],[1.905,-39.4],[1.919,-38.4],[1.933,-40.1],[1.946,-38.1],[1.96,-39.4],[1.974,-37.5],[1.988,-40.7],[2.0,-42.7],[2.01,-40.1],[2.024,-38.4],[2.038,-39.4],[2.052,-36.8],[2.06,-34.2],[2.07,-36.1],[2.08,-33.5],[2.088,-36.8],[2.1,-39.4],[2.116,-40.7],[2.125,-42.7],[2.134,-44.6],[2.143,-42.0],[2.152,-43.3],[2.16,-45.3],[2.17,-42.7],[2.18,-44.0],[2.19,-42.0],[2.203,-40.7],[2.217,-38.8],[2.23,-39.4],[2.244,-37.5],[2.258,-38.8],[2.272,-36.8],[2.285,-37.8],[2.3,-36.8],[2.313,-38.4],[2.326,-37.5],[2.34,-39.4],[2.354,-38.4],[2.368,-40.1],[2.38,-39.1],[2.395,-40.7],[2.404,-36.1],[2.414,-39.4],[2.423,-41.7],[2.432,-40.1],[2.44,-41.4],[2.45,-39.4],[2.46,-37.5],[2.469,-34.8],[2.478,-33.5],[2.487,-31.6],[2.496,-32.9],[2.505,-30.9],[2.514,-32.2],[2.523,-31.6],[2.533,-32.9],[2.542,-33.5],[2.55,-32.2],[2.56,-30.9],[2.569,-30.3],[2.578,-29.0],[2.588,-30.9],[2.597,-29.0],[2.606,-27.0],[2.615,-25.0],[2.624,-23.7],[2.633,-22.1],[2.642,-23.1],[2.652,-21.8],[2.665,-23.1],[2.68,-21.8],[2.693,-20.5],[2.707,-19.2],[2.72,-20.5],[2.734,-18.8],[2.748,-20.5],[2.762,-19.5],[2.775,-20.5],[2.79,-20.8],[2.803,-21.8],[2.812,-23.4],[2.826,-22.4],[2.84,-23.7],[2.853,-23.1],[2.862,-20.8],[2.87,-23.1],[2.885,-23.7],[2.9,-22.4],[2.912,-20.5],[2.922,-22.4],[2.936,-23.7],[2.95,-22.7],[2.963,-23.7],[2.977,-22.4],[2.99,-23.1]];

// Axis ranges / labels
const panelLetters = ['A', 'B', 'C'];
const rowTitles = ['MD: from open-cleft', 'MD: from closed-cleft', 'SMD: from closed-cleft'];
const legendNames = ['Glycine', 'D-cycloserine'];

// ---------- CHART ----------
const FONT = "'Liberation Sans', Arial, sans-serif";
const RED = '#d0212a', NAVY = '#1d2b6c';
const chart = echarts.init(document.getElementById('c'), null, {renderer: 'canvas'});

const grids = [
  {left: 141, top: 23, width: 434, height: 255},
  {left: 672, top: 23, width: 415, height: 255},
  {left: 110, top: 357, width: 470, height: 271},
  {left: 653, top: 356, width: 437, height: 271},
  {left: 115, top: 688, width: 467, height: 254},
  {left: 654, top: 687, width: 437, height: 255}
].map(g => Object.assign({show: true, borderColor: '#a6a6a6', borderWidth: 1, backgroundColor: 'transparent'}, g));

function xAx(i, max, interval, fmt, showMax) {
  return {
    type: 'value', gridIndex: i, min: 0, max: max, interval: interval,
    axisLine: {show: true, onZero: false, lineStyle: {color: '#000', width: 1}},
    axisTick: {show: true, inside: true, length: 5, lineStyle: {color: '#000'}},
    axisLabel: {show: true, margin: 11, fontSize: 21, color: '#111', fontFamily: FONT,
      showMaxLabel: showMax, formatter: fmt},
    splitLine: {show: false}
  };
}
function yAx(i, min, max, interval) {
  return {
    type: 'value', gridIndex: i, min: min, max: max, interval: interval,
    axisLine: {show: true, onZero: false, lineStyle: {color: '#000', width: 1}},
    axisTick: {show: true, inside: false, length: 6, lineStyle: {color: '#000'}},
    axisLabel: {show: true, margin: 17, fontSize: 21, color: '#111', fontFamily: FONT},
    splitLine: {show: true, lineStyle: {color: '#c4c4c4', width: 1}}
  };
}
const f1 = v => v.toFixed(1);
const fInt = v => (v % 5 === 0 ? String(v) : '');
const xAxes = [
  xAx(0, 30, 5, null, true), xAx(1, 30, 5, null, true),
  xAx(2, 46, 5, fInt, false), xAx(3, 46, 5, fInt, false),
  xAx(4, 3, 0.5, f1, true), xAx(5, 3, 0.5, null, true)
];
const yAxes = [
  yAx(0, 2, 8, 1), yAx(1, -60, -10, 10),
  yAx(2, 2, 8, 1), yAx(3, -60, -10, 10),
  yAx(4, 2, 8, 1), yAx(5, -60, -10, 10)
];

function ln(idx, data, color, z) {
  return {type: 'line', xAxisIndex: idx, yAxisIndex: idx, data: data, showSymbol: false, symbol: 'none',
    lineStyle: {color: color, width: 1.3}, itemStyle: {color: color}, z: z, clip: true, animation: false};
}
const series = [
  ln(0, A_gly, RED, 2), ln(0, A_dcs, NAVY, 3),
  ln(1, AH_gly, RED, 2), ln(1, AH_dcs, NAVY, 3),
  ln(2, B_dcs, NAVY, 2), ln(2, B_gly, RED, 3),
  ln(3, BH_gly, RED, 2), ln(3, BH_dcs, NAVY, 3),
  ln(4, C_dcs, NAVY, 2), ln(4, C_gly, RED, 3),
  ln(5, CH_gly, RED, 2), ln(5, CH_dcs, NAVY, 3)
];

function txt(x, y, s, size, opts) {
  opts = opts || {};
  return {type: 'text', x: x, y: y, rotation: opts.rot || 0, z: 100,
    style: {text: s, fill: opts.color || '#111', font: (opts.bold ? 'bold ' : '') + size + 'px ' + FONT,
      align: opts.align || 'center', verticalAlign: 'middle'}};
}
const R90 = Math.PI / 2;
const graphic = [
  txt(20, 22, panelLetters[0], 20, {bold: true}),
  txt(20, 350, panelLetters[1], 20, {bold: true}),
  txt(20, 684, panelLetters[2], 20, {bold: true}),
  txt(28, 181, rowTitles[0], 22, {rot: R90}),
  txt(28, 522, rowTitles[1], 22, {rot: R90}),
  txt(28, 837, rowTitles[2], 22, {rot: R90}),
  txt(89, 148, 'Distance (Å)', 22, {rot: R90}),
  txt(609, 150, 'ΔH (kcal/mol)', 22, {rot: R90}),
  txt(361, 330, 'Time (ns)', 22),
  txt(882, 330, 'Time (ns)', 22),
  txt(373, 45, legendNames[0], 26, {align: 'left', color: '#e1262c'}),
  txt(374, 80, legendNames[1], 26, {align: 'left', color: '#2b2bc8'})
];

chart.setOption({
  animation: false,
  backgroundColor: '#fff',
  grid: grids,
  xAxis: xAxes,
  yAxis: yAxes,
  series: series,
  graphic: graphic
});
</script>
</body>
</html>
